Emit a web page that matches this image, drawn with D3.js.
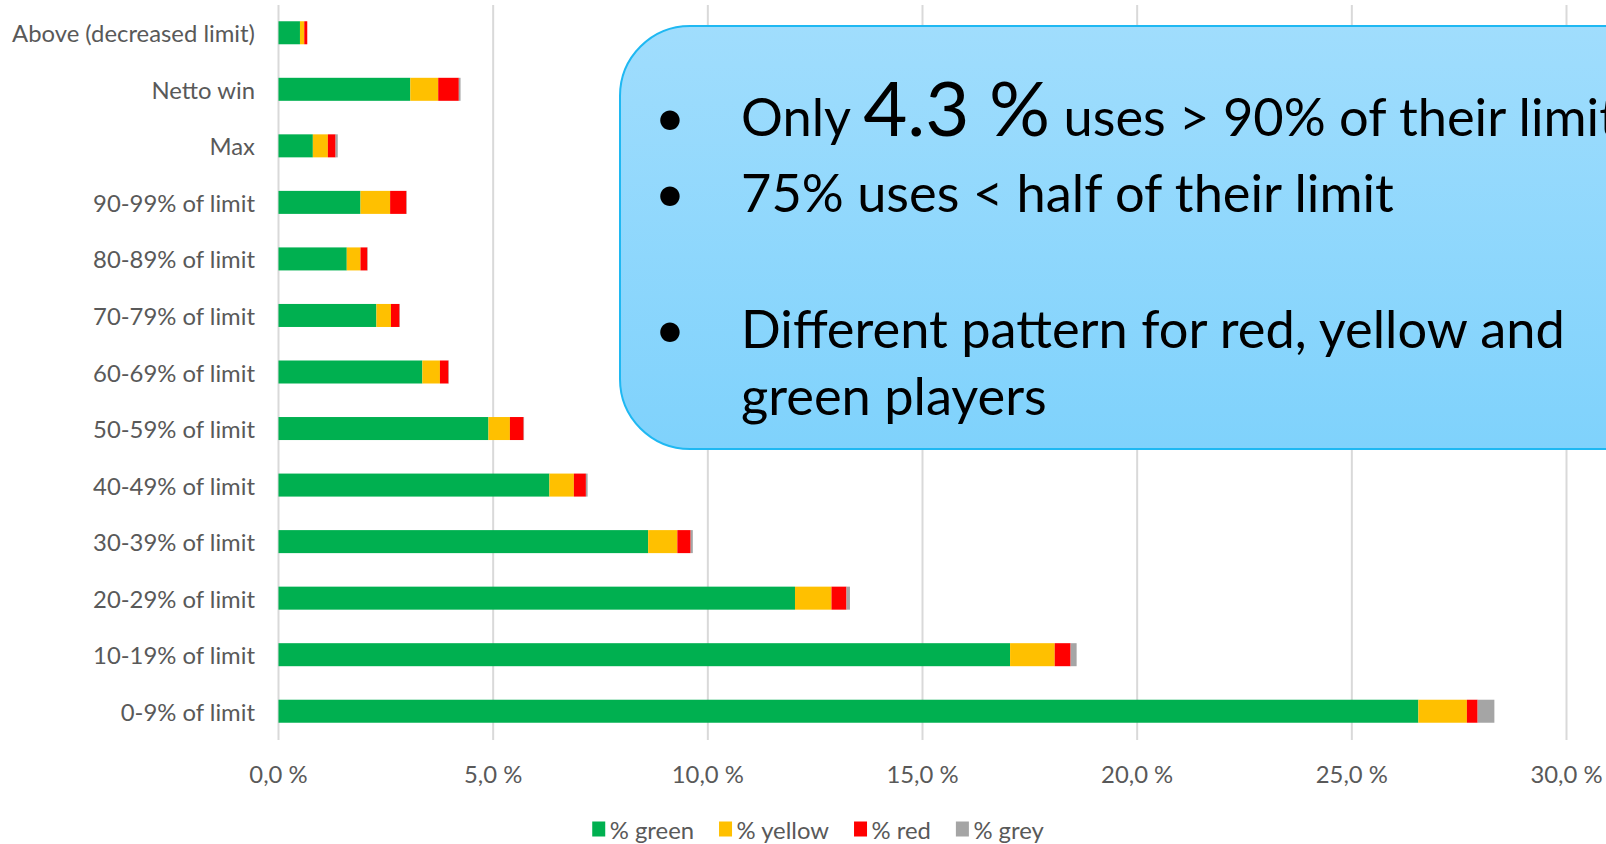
<!DOCTYPE html>
<html>
<head>
<meta charset="utf-8">
<script src="https://cdn.jsdelivr.net/npm/d3@7"></script>
<style>
  html, body { margin: 0; padding: 0; background: #ffffff; overflow: hidden; }
  svg { display: block; }
</style>
</head>
<body>
<svg id="chart" width="1606" height="844"></svg>
<script>
// ---------------- DATA ----------------
const categories = [
  "Above (decreased limit)", "Netto win", "Max",
  "90-99% of limit", "80-89% of limit", "70-79% of limit", "60-69% of limit",
  "50-59% of limit", "40-49% of limit", "30-39% of limit", "20-29% of limit",
  "10-19% of limit", "0-9% of limit"
];
const seriesNames = ["% green", "% yellow", "% red", "% grey"];
const greenValues  = [0.50, 3.07, 0.80, 1.91, 1.59, 2.28, 3.35, 4.89, 6.31, 8.61, 12.03, 17.04, 26.55];
const yellowValues = [0.10, 0.65, 0.35, 0.69, 0.32, 0.34, 0.41, 0.50, 0.57, 0.68, 0.85, 1.04, 1.13];
const redValues    = [0.07, 0.48, 0.18, 0.38, 0.16, 0.20, 0.20, 0.32, 0.28, 0.31, 0.35, 0.37, 0.25];
const greyValues   = [0.00, 0.04, 0.05, 0.01, 0.01, 0.01, 0.01, 0.01, 0.04, 0.05, 0.08, 0.14, 0.39];
const tickValues = [0, 5, 10, 15, 20, 25, 30];
const calloutLines = [
  ["Only ", "4.3 %", " uses > 90% of their limit"],
  ["75% uses < half of their limit"],
  ["Different pattern for red, yellow and"],
  ["green players"]
];

// ---------------- STYLE ----------------
const colors = ["#00B050", "#FFC000", "#FF0000", "#A5A5A5"];
const FONT = "Lato, 'Open Sans', sans-serif";
const svg = d3.select("#chart");

function measure(text, size, family) {
  const t = svg.append("text").attr("font-family", family).attr("font-size", size).text(text);
  const w = t.node().getComputedTextLength();
  t.remove();
  return w;
}
function fitSize(text, target, family) {
  return 100 * target / measure(text, 100, family);
}
const labelSize = fitSize("Above (decreased limit)", 243, FONT);

// ---------------- SCALES ----------------
const x = d3.scaleLinear().domain([0, 30]).range([278.5, 1566.5]);
const y = d3.scaleBand().domain(categories).range([4.5, 739.5]).paddingInner(0.593).paddingOuter(0.2965);

const table = categories.map((c, i) => ({
  cat: c, "% green": greenValues[i], "% yellow": yellowValues[i], "% red": redValues[i], "% grey": greyValues[i]
}));
const stacked = d3.stack().keys(seriesNames)(table);

// gridlines
svg.append("g").selectAll("line").data(tickValues).join("line")
  .attr("x1", d => x(d)).attr("x2", d => x(d))
  .attr("y1", 5).attr("y2", 740)
  .attr("stroke", "#D9D9D9").attr("stroke-width", 2);

// bars
svg.append("g").selectAll("g").data(stacked).join("g")
  .attr("fill", (d, i) => colors[i])
  .selectAll("rect").data(d => d).join("rect")
  .attr("x", d => x(d[0]))
  .attr("width", d => Math.max(0, x(d[1]) - x(d[0])))
  .attr("y", d => y(d.data.cat))
  .attr("height", y.bandwidth());

// category labels
svg.append("g").selectAll("text").data(categories).join("text")
  .attr("x", 255).attr("y", d => y(d) + y.bandwidth() / 2)
  .attr("text-anchor", "end").attr("dominant-baseline", "central")
  .attr("font-family", FONT).attr("font-size", labelSize).attr("fill", "#595959")
  .text(d => d);

// x tick labels
const loc = d3.formatLocale({decimal: ",", thousands: " ", grouping: [3], currency: ["", ""]});
const fmt = loc.format(".1f");
svg.append("g").selectAll("text").data(tickValues).join("text")
  .attr("x", d => x(d)).attr("y", 773)
  .attr("text-anchor", "middle").attr("dominant-baseline", "central")
  .attr("font-family", FONT).attr("font-size", labelSize).attr("fill", "#595959")
  .text(d => fmt(d) + " %");

// legend
const sw = 13, sh = 15, gap1 = 4.5, gap2 = 25;
const widths = seriesNames.map(n => measure(n, labelSize, FONT));
const total = d3.sum(widths) + seriesNames.length * (sw + gap1) + (seriesNames.length - 1) * gap2;
let lx = 818 - total / 2;
const legend = svg.append("g");
seriesNames.forEach((n, i) => {
  legend.append("rect").attr("x", lx).attr("y", 829 - sh / 2).attr("width", sw).attr("height", sh).attr("fill", colors[i]);
  legend.append("text").attr("x", lx + sw + gap1).attr("y", 829)
    .attr("dominant-baseline", "central")
    .attr("font-family", FONT).attr("font-size", labelSize).attr("fill", "#595959").text(n);
  lx += sw + gap1 + widths[i] + gap2;
});

// callout box
const defs = svg.append("defs");
const grad = defs.append("linearGradient").attr("id", "boxGrad").attr("x1", 0).attr("y1", 0).attr("x2", 0).attr("y2", 1);
grad.append("stop").attr("offset", "0%").attr("stop-color", "#A0DDFD");
grad.append("stop").attr("offset", "100%").attr("stop-color", "#7FD2FC");
svg.append("rect").attr("x", 620).attr("y", 26).attr("width", 1100).attr("height", 423)
  .attr("rx", 70).attr("ry", 70)
  .attr("fill", "url(#boxGrad)").attr("stroke", "#1FB8F2").attr("stroke-width", 2);

const bodySize = fitSize(calloutLines[1][0], 653, FONT);
const bigSize = fitSize(calloutLines[0][1], 187, FONT);
const baselines = [136, 212, 348, 415];
const bullets = [true, true, true, false];
const callout = svg.append("g").attr("font-family", FONT).attr("fill", "#000");
calloutLines.forEach((parts, i) => {
  if (bullets[i]) {
    callout.append("text").attr("x", 670).attr("y", baselines[i]).attr("text-anchor", "middle")
      .attr("font-size", bodySize).text("•");
  }
  const t = callout.append("text").attr("x", 741).attr("y", baselines[i]).attr("font-size", bodySize)
    .attr("xml:space", "preserve").style("white-space", "pre");
  parts.forEach((p, j) => {
    t.append("tspan").attr("font-size", (i === 0 && j === 1) ? bigSize : bodySize).text(p);
  });
});
</script>
</body>
</html>
